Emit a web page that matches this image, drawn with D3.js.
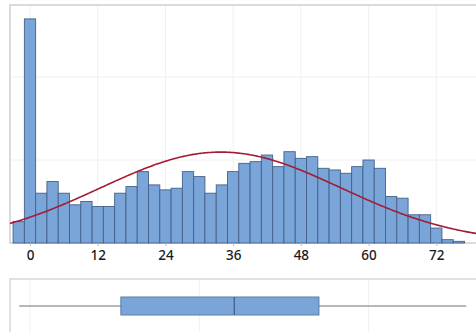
<!DOCTYPE html>
<html><head><meta charset="utf-8">
<script src="https://cdn.jsdelivr.net/npm/d3@7"></script>
<style>html,body{margin:0;padding:0;background:#fff;}svg{display:block;}</style>
</head><body>
<svg id="c" width="476" height="332"></svg>
<script>
// Histogram bins (centers, width 2) and counts
const binCenters = [-2,0,2,4,6,8,10,12,14,16,18,20,22,24,26,28,30,32,34,36,38,40,42,44,46,48,50,52,54,56,58,60,62,64,66,68,70,72,74,76];
const counts     = [13,135,30,37,30,23,25,22,22,30,34,43,35,32,33,43,40,30,35,43,48,49,53,46,55,51,52,45,44,42,46,50,45,28,27,17,17,9,2,1];
const binWidth = 2;
const xTicks = [0,12,24,36,48,60,72];
const yGrid = [50,100];
const boxGrid = [0,30,60];
// Fitted normal
const fitMean = 33.8, fitSD = 21.3;
// Boxplot summary
const boxStats = {min:-1.9, q1:16.1, median:36.2, q3:51.2, max:77.3};

const svg = d3.select("#c");
const x = d3.scaleLinear().domain([0,72]).range([30,436.3]);
const xLeft = 10, xRight = 478;
const y = d3.scaleLinear().domain([0,100]).range([243,77]);
const yTop = 5, yBot = 243;

// grid
const g = svg.append("g");
g.selectAll(".vg").data(xTicks).join("line")
  .attr("x1",d=>x(d)).attr("x2",d=>x(d)).attr("y1",yTop).attr("y2",yBot)
  .attr("stroke","#f0f0f0").attr("stroke-width",1);
g.selectAll(".hg").data(yGrid).join("line")
  .attr("x1",xLeft).attr("x2",xRight).attr("y1",d=>y(d)).attr("y2",d=>y(d))
  .attr("stroke","#f0f0f0").attr("stroke-width",1);

// frame
svg.append("rect").attr("x",xLeft).attr("y",yTop).attr("width",xRight-xLeft).attr("height",yBot-yTop)
  .attr("fill","none").attr("stroke","#d0d0d0").attr("stroke-width",1.5);

// bars
svg.append("g").selectAll("rect").data(binCenters).join("rect")
  .attr("x",(d)=>x(d-binWidth/2)).attr("width",(d)=>x(d+binWidth/2)-x(d-binWidth/2))
  .attr("y",(d,i)=>y(counts[i])).attr("height",(d,i)=>yBot-y(counts[i]))
  .attr("fill","#7aa5d9").attr("stroke","#44608a").attr("stroke-width",0.9);

// normal curve
const N = d3.sum(counts);
const pdf = v => N*binWidth/(fitSD*Math.sqrt(2*Math.PI))*Math.exp(-((v-fitMean)**2)/(2*fitSD*fitSD));
const xs = d3.range(x.invert(xLeft), x.invert(xRight)+0.01, 0.25);
svg.append("path").datum(xs)
  .attr("d", d3.line().x(d=>x(d)).y(d=>y(pdf(d))).curve(d3.curveBasis))
  .attr("fill","none").attr("stroke","#a31c33").attr("stroke-width",1.6);

// x axis ticks & labels
const ax = svg.append("g").attr("transform",`translate(0,${yBot})`)
  .call(d3.axisBottom(x).tickValues(xTicks).tickSize(3).tickPadding(4));
ax.select(".domain").remove();
ax.selectAll(".tick line").attr("stroke","#bbb");
ax.selectAll(".tick text").attr("font-family","Noto Sans, Open Sans, sans-serif")
  .attr("font-size","13.5px").attr("font-weight","500").attr("fill","#1a1a1a");

// box plot panel
const bTop = 279, bBot = 340, bMid = 306;
svg.append("g").selectAll("line").data(boxGrid).join("line")
  .attr("x1",d=>x(d)).attr("x2",d=>x(d)).attr("y1",bTop).attr("y2",bBot)
  .attr("stroke","#f0f0f0");
svg.append("rect").attr("x",xLeft).attr("y",bTop).attr("width",xRight-xLeft).attr("height",bBot-bTop)
  .attr("fill","none").attr("stroke","#d8d8d8").attr("stroke-width",1.5);
svg.append("line").attr("x1",x(boxStats.min)).attr("x2",x(boxStats.max)).attr("y1",bMid).attr("y2",bMid)
  .attr("stroke","#a0a0a0").attr("stroke-width",1.3);
svg.append("rect").attr("x",x(boxStats.q1)).attr("width",x(boxStats.q3)-x(boxStats.q1))
  .attr("y",bMid-9).attr("height",18)
  .attr("fill","#7aa5d9").attr("stroke","#5c7ca6").attr("stroke-width",1);
svg.append("line").attr("x1",x(boxStats.median)).attr("x2",x(boxStats.median)).attr("y1",bMid-9).attr("y2",bMid+9)
  .attr("stroke","#3f5a80").attr("stroke-width",1.2);
</script>
</body></html>
